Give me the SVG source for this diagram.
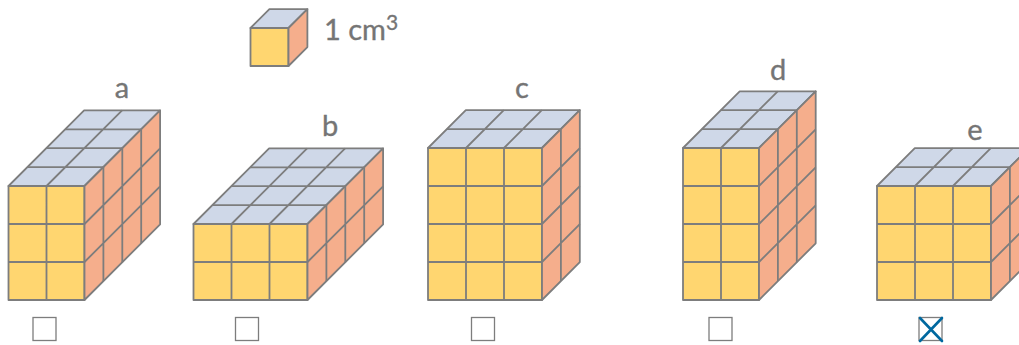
<svg xmlns="http://www.w3.org/2000/svg" width="1019" height="345" viewBox="0 0 1019 345">
<style>
.f{fill:#ffd670}.t{fill:#cfd8e8}.s{fill:#f5ae8c}
.f,.t,.s,.g{stroke:#7d7d7d;stroke-width:1.8;stroke-linejoin:round}
.g{fill:none}
.l{font-family:"Lato","Noto Sans",sans-serif;font-size:29px;fill:#757575;stroke:#757575;stroke-width:.35}
.b{fill:#fff;stroke:#7d7d7d;stroke-width:1.3}
.x{fill:none;stroke:#00689f;stroke-width:2.6;stroke-linecap:round}
</style>
<g id="unit">
<rect class="f" x="250.5" y="28" width="38" height="38"/>
<polygon class="t" points="250.5,28 288.5,28 307.4,9.100 269.4,9.100"/>
<polygon class="s" points="288.5,28 307.4,9.100 307.4,47.100 288.5,66"/>
<text class="l" x="324" y="40">1 cm<tspan font-size="21" dy="-10">3</tspan></text>
</g>
<g id="a">
<rect class="f" x="8.5" y="186" width="76" height="114"/>
<polygon class="t" points="8.5,186 84.5,186 160.1,110.400 84.100,110.400"/>
<polygon class="s" points="84.5,186 160.1,110.400 160.1,224.400 84.5,300"/>
<path class="g" d="M46.5 186v114M8.5 224h76M8.5 262h76M27.400 167.100h76M46.300 148.200h76M65.200 129.300h76M46.500 186l75.600-75.600M103.400 167.100v114M122.300 148.200v114M141.200 129.300v114M84.500 224l75.600-75.600M84.500 262l75.600-75.600"/>
<text class="l" x="122" y="98" text-anchor="middle">a</text>
<rect class="b" x="33" y="317.500" width="23" height="23"/>
</g>
<g id="b">
<rect class="f" x="193.500" y="224" width="114" height="76"/>
<polygon class="t" points="193.500,224 307.500,224 383.100,148.400 269.100,148.400"/>
<polygon class="s" points="307.500,224 383.100,148.400 383.100,224.400 307.500,300"/>
<path class="g" d="M231.500 224v76M269.500 224v76M193.500 262h114M212.400 205.100h114M231.300 186.200h114M250.200 167.300h114M231.500 224l75.600-75.600M269.500 224l75.600-75.600M326.400 205.100v76M345.300 186.200v76M364.200 167.300v76M307.500 262l75.600-75.600"/>
<text class="l" x="330" y="136" text-anchor="middle">b</text>
<rect class="b" x="235.500" y="317.500" width="23" height="23"/>
</g>
<g id="c">
<rect class="f" x="428" y="148" width="114" height="152"/>
<polygon class="t" points="428,148 542,148 579.800,110.200 465.800,110.200"/>
<polygon class="s" points="542,148 579.800,110.200 579.800,262.200 542,300"/>
<path class="g" d="M466 148v152M504 148v152M428 186h114M428 224h114M428 262h114M446.900 129.100h114M466 148l37.800-37.800M504 148l37.800-37.800M560.900 129.100v152M542 186l37.800-37.800M542 224l37.800-37.800M542 262l37.800-37.800"/>
<text class="l" x="522" y="98" text-anchor="middle">c</text>
<rect class="b" x="471.500" y="317.500" width="23" height="23"/>
</g>
<g id="d">
<rect class="f" x="683" y="148" width="76" height="152"/>
<polygon class="t" points="683,148 759,148 815.700,91.300 739.700,91.300"/>
<polygon class="s" points="759,148 815.700,91.300 815.700,243.300 759,300"/>
<path class="g" d="M721 148v152M683 186h76M683 224h76M683 262h76M701.900 129.100h76M720.800 110.200h76M721 148l56.700-56.700M777.900 129.100v152M796.800 110.200v152M759 186l56.700-56.700M759 224l56.700-56.700M759 262l56.700-56.700"/>
<text class="l" x="778" y="80" text-anchor="middle">d</text>
<rect class="b" x="709" y="317.500" width="23" height="23"/>
</g>
<g id="e">
<rect class="f" x="877" y="186" width="114" height="114"/>
<polygon class="t" points="877,186 991,186 1028.800,148.200 914.800,148.200"/>
<polygon class="s" points="991,186 1028.800,148.200 1028.800,262.200 991,300"/>
<path class="g" d="M915 186v114M953 186v114M877 224h114M877 262h114M895.900 167.100h114M915 186l37.800-37.800M953 186l37.800-37.800M1009.900 167.100v114M991 224l37.800-37.800M991 262l37.800-37.800"/>
<text class="l" x="975" y="140" text-anchor="middle">e</text>
<rect class="b" x="919" y="317.500" width="23" height="23"/>
<path class="x" d="M920 318l22 23M942 318l-22 23"/>
</g>
</svg>
